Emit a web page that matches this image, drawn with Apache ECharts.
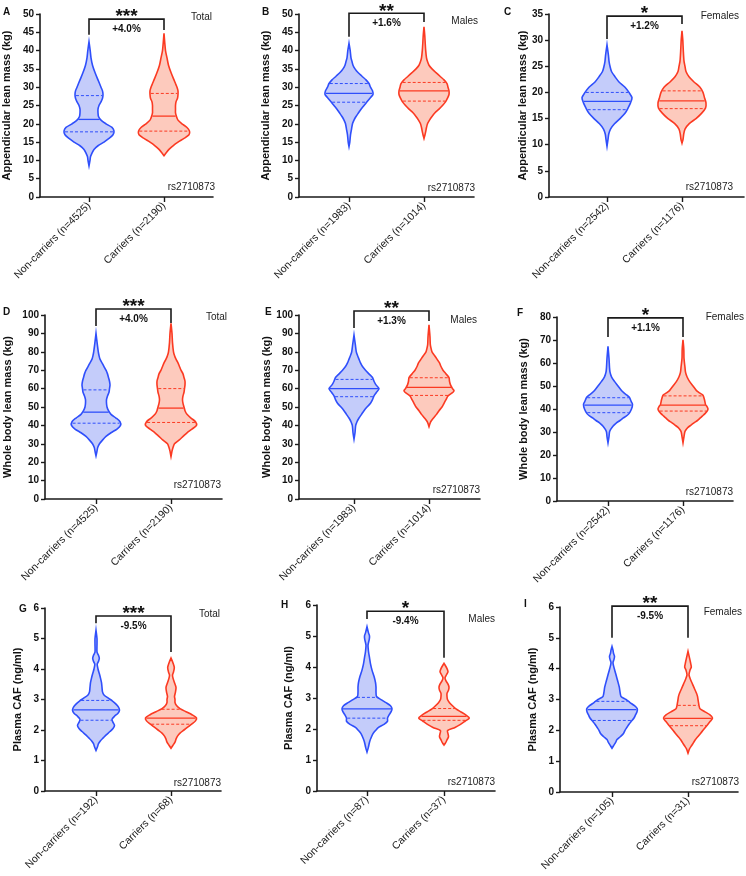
<!DOCTYPE html>
<html><head><meta charset="utf-8">
<script src="https://cdn.jsdelivr.net/npm/echarts@6/dist/echarts.min.js"></script>
<style>html,body{margin:0;padding:0;background:#fff}#c{width:746px;height:876px}</style>
</head><body><div id="c"></div>
<script>
// ---------------- DATA ----------------
const panelLetters = ['A','B','C','D','E','F','G','H','I'];
const groupLabels = ['Total','Males','Females','Total','Males','Females','Total','Males','Females'];
const yAxisNames = ['Appendicular lean mass (kg)','Appendicular lean mass (kg)','Appendicular lean mass (kg)',
  'Whole body lean mass (kg)','Whole body lean mass (kg)','Whole body lean mass (kg)',
  'Plasma CAF (ng/ml)','Plasma CAF (ng/ml)','Plasma CAF (ng/ml)'];
const yMax = [50,50,35,100,100,80,6,6,6];
const yInterval = [5,5,5,10,10,10,1,1,1];
const nonCarrierN = [4525,1983,2542,4525,1983,2542,192,87,105];
const carrierN = [2190,1014,1176,2190,1014,1176,68,37,31];
const significance = ['***','**','*','***','**','*','***','*','**'];
const pctDiff = ['+4.0%','+1.6%','+1.2%','+4.0%','+1.3%','+1.1%','-9.5%','-9.4%','-9.5%'];
const bracketTop = [48.6,50.2,34.6,103.3,102.2,79.6,5.74,5.8,6.03];
const bracketLeftEnd = [44.3,43.8,30.2,94.0,92.9,71.3,5.5,5.55,5.0];
const bracketRightEnd = [45.6,47.8,33.1,95.7,96.7,71.3,4.56,4.3,5.0];
const snpLabel = 'rs2710873';

// quartiles [Q1, median, Q3]
const quartilesNC = [[17.8,21.2,27.7],[25.9,28.3,31.0],[16.7,18.3,20.0],[41.2,47.2,59.3],[55.6,60.0,65.0],[38.4,41.7,44.9],[2.32,2.66,2.97],[2.35,2.65,3.02],[2.32,2.67,2.94]];
const quartilesC  = [[18.0,22.1,28.3],[26.2,29.0,31.3],[16.9,18.4,20.3],[41.6,49.4,60.0],[56.3,60.7,65.9],[39.1,41.7,45.7],[2.19,2.39,2.68],[2.28,2.41,2.66],[2.15,2.39,2.81]];

// violin density profiles [value, relative density]
const profilesNC = [
 [[8.5,0],[10,1],[11,1.5],[12,3],[13,5],[14,9],[15,15],[16,20],[17,24],[18,25],[19,23],[20,17],[21,12],[22,9.5],[23,9],[24,9],[25,10],[26,12],[27,13.5],[28,14],[29,13.5],[30,12],[32,9],[34,6],[36,3.5],[38,2],[40,1.2],[42.4,0]],
 [[13.8,0],[15,0.8],[17,1.5],[18.5,2.5],[20,3.5],[21,5],[22,7],[23,9.5],[24,12],[25,15],[26,18],[27,21],[28,24],[29,23.5],[30,21.5],[31,20],[32,17],[33,13],[34,9],[35,6],[36,4],[37,3],[38,2],[40,1.2],[42,0]],
 [[9.7,0],[11,1],[12,1.7],[13,3.5],[14,7.5],[15,13],[16,18],[17,21],[18,23.5],[19,25],[20,22],[21,18],[22,12],[23,8],[24,4.5],[25,3],[26,2],[27,1.5],[29.1,0]],
 [[23.5,0],[26,1],[28,1.7],[30,3.5],[32,6.5],[34,10],[36,15],[38,21],[40,24.5],[42,24],[44,20],[46,15],[48,12.5],[50,11],[52,10.5],[54,10.5],[56,11.5],[58,13],[60,13.5],[62,14],[64,13.5],[66,12.5],[68,11.5],[70,10],[72,8],[74,6],[76,4],[78,3],[80,2.3],[84,1.3],[90,0]],
 [[32.6,0],[36,1],[38,1.3],[40,1.7],[42,3],[44,5],[46,7.5],[48,10],[50,13],[52,16.5],[54,18.5],[56,20],[58,22.5],[60,25],[62,22],[64,20],[66,18.5],[68,15],[70,11.5],[72,8.5],[74,6.5],[76,5],[78,3.5],[80,2.3],[84,1.3],[89.1,0]],
 [[25.3,0],[28,1],[30,1.5],[31,2.5],[32,4],[33,6],[34,8.5],[35,12],[36,15],[37,18.5],[38,21],[40,23.5],[42,24.5],[43,23.5],[44,22.5],[45,21.5],[46,19],[47,16],[48,13.5],[50,10],[52,6.5],[54,3.5],[56,2],[58,1.5],[62,1],[67.2,0]],
 [[1.33,0],[1.45,1.5],[1.55,2.5],[1.65,4.5],[1.75,7.5],[1.85,10.5],[1.95,14],[2.05,17],[2.15,18.5],[2.25,17],[2.35,16],[2.45,18.5],[2.55,22],[2.65,23.5],[2.75,22.5],[2.85,20],[2.95,16.5],[3.05,12],[3.15,8],[3.25,6.5],[3.4,6],[3.55,5.5],[3.7,4.5],[3.85,3.3],[4.0,2],[4.15,1.2],[4.25,2.5],[4.35,3.3],[4.45,2.5],[4.55,1],[4.8,1],[5.0,1],[5.27,0]],
 [[1.26,0],[1.4,1.3],[1.6,2.7],[1.75,4.5],[1.85,6],[1.95,8.5],[2.05,11.5],[2.15,17],[2.25,20.5],[2.35,20.5],[2.45,22],[2.55,24],[2.65,25],[2.75,23.5],[2.85,19],[2.95,14],[3.05,9.5],[3.2,9],[3.35,9],[3.5,8.5],[3.7,7],[3.9,5],[4.1,3.5],[4.3,2.5],[4.5,1.5],[4.7,1],[4.9,2.3],[5.0,2.5],[5.1,1.5],[5.3,0]],
 [[1.42,0],[1.5,1.5],[1.6,3.5],[1.7,5],[1.8,8.5],[1.9,11.5],[2.0,13],[2.1,15],[2.2,17],[2.3,19.5],[2.4,22],[2.5,23.5],[2.6,25],[2.7,25.3],[2.8,22.5],[2.9,18],[3.0,14],[3.1,9],[3.25,8],[3.4,7.3],[3.6,5.7],[3.8,4],[3.95,2.7],[4.1,1.5],[4.2,1],[4.3,2],[4.4,2.5],[4.5,1.5],[4.6,1],[4.72,0]]
];
const profilesC = [
 [[11.3,0],[12,2],[13,5],[14,9],[15,14],[16,20],[17,25],[18,25.5],[19,23],[20,18],[21,14],[22,12.5],[23,11.5],[24,11.5],[25,11.5],[26,12],[27,13.5],[28,14],[29,14],[30,13],[31,11.5],[32,10],[34,7],[36,4.5],[38,3],[40,1.5],[42,0.8],[44.7,0]],
 [[16,0],[17,1],[18,1.8],[19,2.5],[20,3.5],[21,5.5],[22,8],[23,11],[24,15],[25,18.5],[26,21.5],[27,23.5],[28,25],[29,25],[30,24],[31,23],[32,20],[33,16],[34,12],[35,8],[36,5],[37,3.5],[38,2.5],[40,1.7],[42,1.2],[44,0.8],[46.5,0]],
 [[10.3,0],[11,1],[12,1.7],[13,3],[14,7],[15,14],[16,19.5],[17,23.5],[18,24],[19,22.5],[20,21],[21,18],[22,12],[23,7],[24,4],[25,3],[26,2],[28,1.3],[30,0.8],[31.8,0]],
 [[23.1,0],[26,1],[28,2],[30,3.5],[32,8],[34,12],[36,16],[38,21],[40,25.5],[42,24.5],[44,20],[46,16],[48,14],[50,13],[52,12],[54,11.5],[56,12],[58,13],[60,13.5],[62,14],[64,14],[66,13],[68,12],[70,10],[72,8.5],[74,7],[76,5],[78,3.5],[80,2.5],[85,1.5],[90,1],[95.5,0]],
 [[39.3,0],[41,1],[42,1.7],[44,4.5],[46,7.5],[48,10],[50,13],[52,15],[54,17],[56,19],[58,24],[59,25],[60,23.5],[62,21.5],[64,20.5],[66,20],[68,17],[70,14],[72,12],[74,10.5],[76,8],[78,5.5],[80,3],[82,2],[84,1.3],[88,1],[94.6,0]],
 [[25.3,0],[28,1],[30,1.8],[31,3],[32,5],[33,8],[34,11],[35,14.5],[36,17],[37,19.5],[38,22],[39,24],[40,25],[41,24],[42,22.5],[44,21.5],[46,20],[47,16.5],[48,13.5],[50,10],[52,6.5],[54,4],[56,2.5],[58,2],[62,1],[66,0.8],[70.1,0]],
 [[1.4,0],[1.5,2],[1.6,4],[1.7,5],[1.8,6.5],[1.9,9],[2.0,13],[2.1,17],[2.2,21],[2.3,24.5],[2.4,25.5],[2.5,21],[2.6,15],[2.7,9],[2.8,5.5],[2.9,4],[3.0,4],[3.1,3.5],[3.25,4.5],[3.4,5],[3.55,3.5],[3.7,2],[3.8,1.5],[3.9,2.5],[4.05,3.3],[4.2,2],[4.36,0]],
 [[1.48,0],[1.55,1.5],[1.65,3],[1.75,4.5],[1.85,4],[1.95,3.5],[2.05,11],[2.15,16.5],[2.25,21],[2.35,25.3],[2.45,22],[2.55,17],[2.65,12],[2.75,8.5],[2.85,5.5],[2.95,3.5],[3.05,3],[3.15,3],[3.25,4.5],[3.35,5],[3.45,4],[3.55,2],[3.65,1],[3.75,2.5],[3.85,4],[3.95,3],[4.12,0]],
 [[1.26,0],[1.4,1.5],[1.5,3.5],[1.6,5.5],[1.7,7.5],[1.8,10],[1.9,12.5],[2.0,15],[2.1,17.5],[2.2,20],[2.3,22.5],[2.4,24.5],[2.5,22],[2.6,17],[2.7,12],[2.8,11],[2.9,10.5],[3.0,10],[3.1,9.5],[3.2,8.5],[3.35,6.5],[3.5,4.5],[3.65,2.5],[3.8,1],[3.95,2],[4.05,3.3],[4.2,2.5],[4.35,1.5],[4.56,0]]
];

// ---------------- LAYOUT / STYLE ----------------
const layout = [
 {L:40,R:213,T:14,B:197,c1:89,c2:164,gap:28,letter:[3,12],grp:[212,17],rs:[215,187]},
 {L:299,R:474,T:14,B:197,c1:349,c2:424,gap:28,letter:[262,12],grp:[478,21],rs:[475,188]},
 {L:549,R:744,T:14,B:197,c1:607,c2:682,gap:20,letter:[504,12],grp:[739,16],rs:[733,187]},
 {L:45,R:222,T:315,B:499,c1:96,c2:171,gap:32,letter:[3,312],grp:[227,317],rs:[221,485]},
 {L:299,R:480,T:315,B:499,c1:354,c2:429,gap:27,letter:[265,312],grp:[477,320],rs:[480,490]},
 {L:557,R:733,T:317,B:501,c1:608,c2:683,gap:28,letter:[517,313],grp:[744,317],rs:[733,492]},
 {L:45,R:221,T:608,B:791,c1:96,c2:171,gap:22,letter:[19,609],grp:[220,614],rs:[221,783]},
 {L:317,R:495,T:605,B:791,c1:367,c2:444,gap:23,letter:[281,605],grp:[495,619],rs:[495,782]},
 {L:560,R:738,T:607,B:792,c1:612,c2:688,gap:22,letter:[524,604],grp:[742,612],rs:[739,782]}
];
const FONT = "'Liberation Sans', Arial, Helvetica, sans-serif";
const colors = {
  nc: {stroke:'#2f4ffb', fill:'rgba(190,198,250,0.9)'},
  c:  {stroke:'#fb3a22', fill:'rgba(253,196,182,0.9)'}
};

function widthAt(profile, v){
  for (let k=0;k<profile.length-1;k++){
    const a=profile[k], b=profile[k+1];
    if (v>=a[0] && v<=b[0]) return a[1]+(b[1]-a[1])*(v-a[0])/(b[0]-a[0]);
  }
  return 0;
}

function violinRender(p){
  return function(params, api){
    const xv = api.value(0);
    const g = api.value(1);
    const prof = g===0 ? profilesNC[p] : profilesC[p];
    const qs = g===0 ? quartilesNC[p] : quartilesC[p];
    const col = g===0 ? colors.nc : colors.c;
    const right = prof.map(function(d){ const pt=api.coord([xv,d[0]]); return [pt[0]+d[1], pt[1]]; });
    const left = prof.slice().reverse().map(function(d){ const pt=api.coord([xv,d[0]]); return [pt[0]-d[1], pt[1]]; });
    const children = [{
      type:'polygon',
      shape:{points: right.concat(left), smooth:0.25},
      style:{fill:col.fill, stroke:col.stroke, lineWidth:1.6}
    }];
    qs.forEach(function(q, qi){
      const w = Math.max(0, widthAt(prof, q) - 0.8);
      const pt = api.coord([xv, q]);
      children.push({
        type:'line',
        shape:{x1:pt[0]-w, y1:pt[1], x2:pt[0]+w, y2:pt[1]},
        style:{stroke:col.stroke, lineWidth: qi===1 ? 1.3 : 1, lineDash: qi===1 ? null : [3,2]}
      });
    });
    return {type:'group', children:children};
  };
}

function bracketRender(p){
  return function(params, api){
    const a = api.coord([1, bracketLeftEnd[p]]);
    const b = api.coord([1, bracketTop[p]]);
    const c = api.coord([2, bracketTop[p]]);
    const d = api.coord([2, bracketRightEnd[p]]);
    const mid = (b[0]+c[0])/2;
    return {type:'group', children:[
      {type:'polyline', shape:{points:[a,b,c,d]}, style:{stroke:'#1a1a1a', lineWidth:1.6, fill:null}},
      {type:'text', x:mid, y:b[1]-2, style:{text:significance[p], font:'bold 19px '+FONT, fill:'#111', textAlign:'center', textVerticalAlign:'middle'}},
      {type:'text', x:mid, y:b[1]+10, style:{text:pctDiff[p], font:'bold 10px '+FONT, fill:'#111', textAlign:'center', textVerticalAlign:'middle'}}
    ]};
  };
}

const grids=[], xAxes=[], yAxes=[], series=[], graphics=[];
layout.forEach(function(Lo, p){
  const span = Lo.c2 - Lo.c1;
  grids.push({left:Lo.L, top:Lo.T, width:Lo.R-Lo.L, height:Lo.B-Lo.T, containLabel:false, outerBoundsMode:'none'});
  xAxes.push({
    type:'value', gridIndex:p,
    min: 1 - (Lo.c1-Lo.L)/span, max: 2 + (Lo.R-Lo.c2)/span,
    splitLine:{show:false},
    axisLine:{show:true, onZero:false, lineStyle:{color:'#1a1a1a', width:1.6}},
    axisTick:{show:true, customValues:[1,2], length:5, lineStyle:{color:'#1a1a1a', width:1.4}},
    axisLabel:{show:true, customValues:[1,2], rotate:45, margin:7, fontFamily:FONT, fontSize:10.5, color:'#1a1a1a',
      formatter:function(v){ return Math.round(v)===1 ? 'Non-carriers (n='+nonCarrierN[p]+')' : 'Carriers (n='+carrierN[p]+')'; }}
  });
  yAxes.push({
    type:'value', gridIndex:p, min:0, max:yMax[p], interval:yInterval[p],
    name:yAxisNames[p], nameLocation:'middle', nameGap:Lo.gap,
    nameTextStyle:{fontFamily:FONT, fontWeight:'bold', fontSize:11, color:'#111'},
    splitLine:{show:false},
    axisLine:{show:true, lineStyle:{color:'#1a1a1a', width:1.6}},
    axisTick:{show:true, length:4, lineStyle:{color:'#1a1a1a', width:1.4}},
    axisLabel:{fontFamily:FONT, fontWeight:'bold', fontSize:10, color:'#111', margin:6}
  });
  series.push({
    type:'custom', xAxisIndex:p, yAxisIndex:p, clip:false, silent:true,
    renderItem: violinRender(p),
    data:[[1,0],[2,1]]
  });
  series.push({
    type:'custom', xAxisIndex:p, yAxisIndex:p, clip:false, silent:true,
    renderItem: bracketRender(p),
    data:[[1.5, bracketTop[p]]]
  });
  graphics.push({type:'text', x:Lo.letter[0], y:Lo.letter[1], style:{text:panelLetters[p], font:'bold 10px '+FONT, fill:'#111', textAlign:'left', textVerticalAlign:'middle'}});
  graphics.push({type:'text', x:Lo.grp[0], y:Lo.grp[1], style:{text:groupLabels[p], font:'10px '+FONT, fill:'#222', textAlign:'right', textVerticalAlign:'middle'}});
  graphics.push({type:'text', x:Lo.rs[0], y:Lo.rs[1], style:{text:snpLabel, font:'10px '+FONT, fill:'#222', textAlign:'right', textVerticalAlign:'middle'}});
});

const chart = echarts.init(document.getElementById('c'), null, {renderer:'canvas'});
chart.setOption({
  animation:false,
  backgroundColor:'#ffffff',
  grid:grids, xAxis:xAxes, yAxis:yAxes, series:series,
  graphic:{elements:graphics}
});
</script>
</body></html>
